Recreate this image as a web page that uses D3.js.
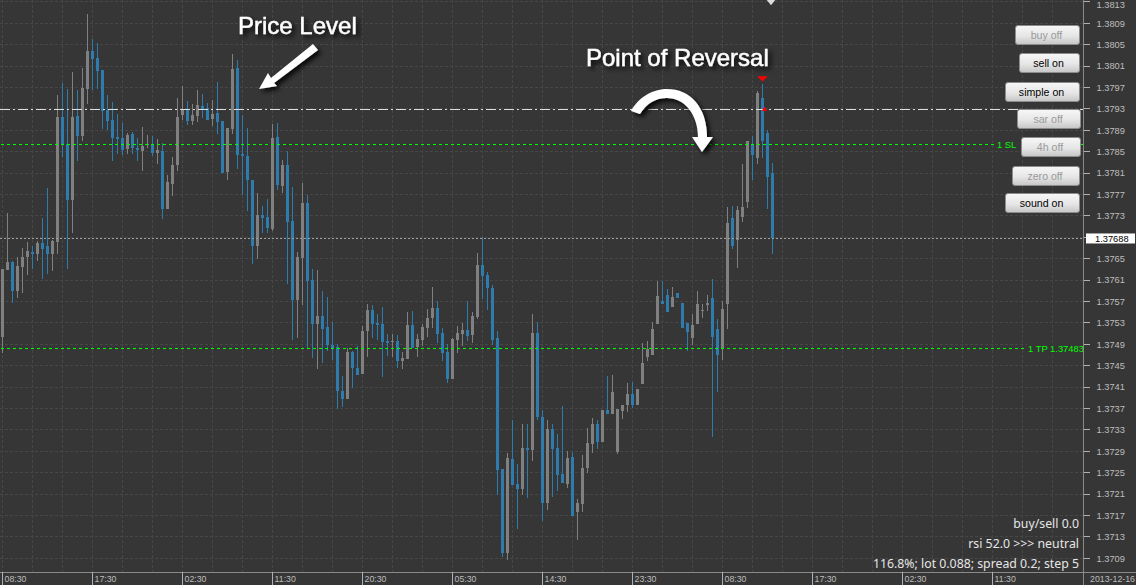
<!DOCTYPE html>
<html>
<head>
<meta charset="utf-8">
<script src="https://cdn.jsdelivr.net/npm/d3@7"></script>
<style>
  html, body { margin: 0; padding: 0; background: #363636; overflow: hidden; }
  svg { display: block; }
  .tick-label { font-family: "Liberation Sans", sans-serif; font-size: 8.8px; fill: #bdbdbd; }
  .price-label { font-size: 9.3px; }
  .button-label { font-family: "Liberation Sans", sans-serif; font-size: 10.6px; text-anchor: middle; }
  .status { font-family: "Noto Sans", sans-serif; font-size: 12.3px; fill: #e6e6e6; text-anchor: end; }
  .level-label { font-family: "Liberation Sans", sans-serif; font-size: 9.4px; fill: #00ff00; }
  .note { font-family: "Liberation Sans", sans-serif; font-size: 24px; fill: #fff; stroke: #fff; stroke-width: 0.4px; }
</style>
</head>
<body>
<div id="chart"></div>
<script>
// prices are kept as points above 1.37000
const basePrice = 1.37;
const pointSize = 0.00001;

const opens = [
  504,629,644,590,635,653,663,659,679,674,
  659,681,915,864,760,917,879,967,1038,1025,
  1003,928,909,877,875,855,883,857,851,862,
  864,848,851,743,790,825,919,930,907,917,
  935,932,911,922,907,812,892,1006,846,842,
  797,674,732,728,706,877,786,825,720,573,
  651,754,610,528,543,522,489,485,403,388,
  476,446,435,515,554,530,528,496,494,496,
  459,463,526,485,498,521,539,558,511,476,
  425,498,509,517,507,541,638,620,595,502,
  257,100,276,229,220,296,292,511,354,193,
  332,296,248,229,279,177,192,259,304,341,
  307,367,360,289,365,377,397,377,416,466,
  470,528,571,582,560,586,567,530,502,528,
  552,564,577,519,481,565,726,685,728,756,
  862,838,950,885,810
];
const highs = [
  631,735,646,653,670,681,674,683,726,782,
  685,956,978,967,999,965,1006,1107,1061,1053,
  1003,956,943,920,904,885,887,875,896,881,
  879,874,866,806,840,950,973,945,939,965,
  958,941,947,980,907,894,1033,1021,919,894,
  797,773,749,762,902,904,835,851,784,663,
  792,769,631,629,590,578,532,491,431,483,
  478,487,524,565,564,547,560,509,509,507,
  476,550,552,509,528,556,597,571,520,491,
  502,524,530,571,550,661,691,625,601,515,
  257,287,349,266,341,341,547,532,367,349,
  341,322,375,291,289,201,283,334,352,349,
  367,431,433,369,377,418,420,406,492,496,
  532,608,608,593,597,586,567,530,547,590,
  565,582,612,537,571,747,749,749,827,870,
  879,963,976,891,829
];
const lows = [
  474,629,567,577,586,620,631,646,612,621,
  627,659,840,631,698,833,870,939,965,967,
  892,891,833,846,844,846,846,833,814,857,
  842,827,724,743,767,814,909,900,900,906,
  913,909,898,883,810,797,883,818,769,739,
  640,649,698,698,702,778,773,603,498,502,
  564,481,464,444,455,478,461,369,373,388,
  408,433,435,466,502,498,429,468,466,446,
  444,463,483,466,487,504,521,492,459,418,
  425,474,487,496,492,537,575,554,489,208,
  92,87,227,145,208,203,272,349,160,180,
  205,216,231,221,169,124,177,249,287,294,
  307,360,360,285,350,364,371,377,416,459,
  470,528,565,550,560,577,521,478,489,528,
  539,552,317,401,461,519,668,633,719,745,
  797,827,838,743,659
];
const closes = [
  631,644,590,636,653,664,659,679,668,659,
  683,915,864,760,915,879,969,1038,1023,1001,
  926,907,875,874,853,881,857,853,861,864,
  848,853,743,793,825,915,928,907,919,937,
  930,909,920,906,810,894,1005,844,842,797,
  674,732,726,707,875,788,825,719,573,653,
  754,608,528,543,519,489,483,403,388,476,
  446,433,515,554,528,526,494,492,496,459,
  464,526,483,500,522,539,558,509,474,425,
  500,511,517,506,543,638,618,595,498,255,
  100,277,227,220,296,292,511,354,193,332,
  294,246,231,277,169,193,259,306,341,307,
  367,360,401,369,377,397,377,406,455,481,
  519,580,565,550,578,577,521,513,526,565,
  554,567,504,470,556,717,674,741,747,870,
  844,960,870,803,688
];

const timeLabels = ["08:30","17:30","02:30","11:30","20:30","05:30","14:30","23:30","08:30","17:30","02:30","11:30"];
const dateLabel = "2013-12-16";
const priceTicks = ["1.3709","1.3713","1.3717","1.3721","1.3725","1.3729","1.3733","1.3737","1.3741","1.3745","1.3749","1.3753","1.3757","1.3761","1.3765","1.3769","1.3773","1.3777","1.3781","1.3785","1.3789","1.3793","1.3797","1.3801","1.3805","1.3809","1.3813"];
const currentPrice = 1.37688;
const reversalLevel = 1.37929;
const stopLoss = 1.37863;
const takeProfit = 1.37483;
const statusLines = ["buy/sell 0.0", "rsi 52.0 >>> neutral", "116.8%; lot 0.088; spread 0.2; step 5"];

const w = 1136, h = 585;
const plotRight = 1084, plotBottom = 572;
const barsPerLabel = 18, barsPerGrid = 6;

const toPrice = (pts) => basePrice + pts * pointSize;

const x = d3.scaleLinear().domain([0, 154]).range([2.5, 772.5]);
const y = d3.scaleLinear().domain([1.3709, 1.3809]).range([558.3, 23.3]);

const svg = d3.select("#chart").append("svg").attr("width", w).attr("height", h);

const defs = svg.append("defs");
const grad = defs.append("linearGradient").attr("id", "btn").attr("x1", 0).attr("x2", 0).attr("y1", 0).attr("y2", 1);
grad.append("stop").attr("offset", "0%").attr("stop-color", "#f7f7f7");
grad.append("stop").attr("offset", "55%").attr("stop-color", "#e6e6e6");
grad.append("stop").attr("offset", "100%").attr("stop-color", "#c6c6c6");
const shadow = defs.append("filter").attr("id", "shadow").attr("x", "-20%").attr("y", "-20%").attr("width", "150%").attr("height", "160%");
shadow.append("feDropShadow").attr("dx", 3).attr("dy", 3).attr("stdDeviation", 2.5).attr("flood-color", "#000").attr("flood-opacity", 0.9);

// grid
const grid = svg.append("g").attr("stroke", "#474747").attr("stroke-dasharray", "3,2").attr("shape-rendering", "crispEdges");
d3.range(0, 216, barsPerGrid).filter(i => x(i) < plotRight).forEach(i => {
  grid.append("line").attr("x1", x(i)).attr("x2", x(i)).attr("y1", 0).attr("y2", plotBottom);
});
priceTicks.forEach(t => {
  grid.append("line").attr("x1", 0).attr("x2", plotRight).attr("y1", y(+t)).attr("y2", y(+t));
});

// candles
const candles = d3.range(opens.length).map(i => ({ i, o: toPrice(opens[i]), h: toPrice(highs[i]), l: toPrice(lows[i]), c: toPrice(closes[i]) }));
const color = d => d.c >= d.o ? "#808080" : "#2e7bae";

const g = svg.append("g").attr("shape-rendering", "crispEdges");
g.selectAll(".wick").data(candles).enter().append("rect")
  .attr("class", "wick")
  .attr("x", d => x(d.i) - 0.5)
  .attr("width", 1)
  .attr("y", d => y(d.h))
  .attr("height", d => y(d.l) - y(d.h))
  .attr("fill", color);
g.selectAll(".body").data(candles).enter().append("rect")
  .attr("class", "body")
  .attr("x", d => x(d.i) - 1.5)
  .attr("width", 3)
  .attr("y", d => y(Math.max(d.o, d.c)))
  .attr("height", d => Math.max(1, Math.abs(y(d.o) - y(d.c))))
  .attr("fill", color);

// horizontal levels
const levels = svg.append("g").attr("shape-rendering", "crispEdges").attr("fill", "none");
levels.append("line").attr("x1", 0).attr("x2", plotRight).attr("y1", y(currentPrice)).attr("y2", y(currentPrice))
  .attr("stroke", "#a0a0a0").attr("stroke-dasharray", "2,2");
levels.append("line").attr("x1", 0).attr("x2", plotRight).attr("y1", y(reversalLevel)).attr("y2", y(reversalLevel))
  .attr("stroke", "#dddddd").attr("stroke-dasharray", "10,3,2,3");
levels.append("line").attr("x1", 1).attr("x2", plotRight).attr("y1", y(stopLoss)).attr("y2", y(stopLoss))
  .attr("stroke", "#00ff00").attr("stroke-dasharray", "3,3");
levels.append("line").attr("x1", 1).attr("x2", plotRight).attr("y1", y(takeProfit)).attr("y2", y(takeProfit))
  .attr("stroke", "#00ff00").attr("stroke-dasharray", "3,3");

// labels sitting on the green lines
svg.append("rect").attr("x", 996).attr("y", y(stopLoss) - 5).attr("width", 24).attr("height", 10).attr("fill", "#363636");
svg.append("text").attr("class", "level-label").attr("x", 997).attr("y", y(stopLoss) + 3.5).text("1 SL");
svg.append("rect").attr("x", 1027).attr("y", y(takeProfit) - 5).attr("width", 57).attr("height", 10).attr("fill", "#363636");
svg.append("text").attr("class", "level-label").attr("x", 1028).attr("y", y(takeProfit) + 3.5).text("1 TP " + takeProfit.toFixed(5));

// order markers
svg.append("path").attr("d", d3.symbol().type(d3.symbolTriangle).size(46)).attr("fill", "#ff0000")
  .attr("transform", `translate(${x(152)},${y(toPrice(976)) - 6.3}) rotate(180) scale(1,0.6)`);
svg.append("path").attr("d", d3.symbol().type(d3.symbolTriangle).size(12)).attr("fill", "#ff0000")
  .attr("transform", `translate(${x(152) + 2},${y(reversalLevel)})`);
svg.append("path").attr("d", d3.symbol().type(d3.symbolTriangle).size(46)).attr("fill", "#dcdcdc")
  .attr("transform", `translate(771,1) rotate(180) scale(1,0.7)`);

// axes
const axisColor = "#8a8a8a";
svg.append("line").attr("x1", plotRight - 0.5).attr("x2", plotRight - 0.5).attr("y1", 0).attr("y2", h).attr("stroke", axisColor).attr("shape-rendering", "crispEdges");
svg.append("line").attr("x1", 0).attr("x2", w).attr("y1", plotBottom + 0.5).attr("y2", plotBottom + 0.5).attr("stroke", axisColor).attr("shape-rendering", "crispEdges");

const yAxis = svg.append("g");
priceTicks.forEach(t => {
  yAxis.append("line").attr("x1", plotRight).attr("x2", plotRight + 6).attr("y1", y(+t)).attr("y2", y(+t))
    .attr("stroke", "#b0b0b0").attr("shape-rendering", "crispEdges");
  // the live price box takes the place of the tick it lands on
  if (Math.abs(+t - currentPrice) < 0.0001) return;
  yAxis.append("text").attr("class", "tick-label price-label").attr("x", plotRight + 12.5).attr("y", Math.max(8, y(+t) + 3.2)).text(t);
});

timeLabels.forEach((t, k) => {
  const px = x(k * barsPerLabel);
  svg.append("line").attr("x1", px).attr("x2", px).attr("y1", plotBottom).attr("y2", h).attr("stroke", "#b0b0b0").attr("shape-rendering", "crispEdges");
  svg.append("text").attr("class", "tick-label").attr("x", px + 2).attr("y", 582).text(t);
});
svg.append("text").attr("class", "tick-label").attr("x", 1090).attr("y", 582).text(dateLabel);

svg.append("rect").attr("x", 1086).attr("y", y(currentPrice) - 4.9).attr("width", 49).attr("height", 10).attr("fill", "#fff");
svg.append("text").attr("class", "tick-label price-label").attr("x", 1095).attr("y", y(currentPrice) + 3.2).style("fill", "#000").text(currentPrice.toFixed(5));

// panel buttons
const buttons = [
  { label: "buy off", x0: 1015, x1: 1080, top: 25, on: false },
  { label: "sell on", x0: 1019, x1: 1080, top: 53, on: true },
  { label: "simple on", x0: 1005, x1: 1080, top: 82, on: true },
  { label: "sar off", x0: 1017, x1: 1081, top: 109, on: false },
  { label: "4h off", x0: 1021, x1: 1081, top: 137, on: false },
  { label: "zero off", x0: 1012, x1: 1080, top: 166, on: false },
  { label: "sound on", x0: 1005, x1: 1080, top: 193, on: true }
];
const btn = svg.append("g").selectAll("g").data(buttons).enter().append("g");
btn.append("rect")
  .attr("x", d => d.x0 + 0.5).attr("y", d => d.top + 0.5)
  .attr("width", d => d.x1 - d.x0 - 1).attr("height", 19).attr("rx", 2.5)
  .attr("fill", "url(#btn)").attr("stroke", "#8c8c8c");
btn.append("text").attr("class", "button-label")
  .attr("x", d => (d.x0 + d.x1) / 2 - 1).attr("y", d => d.top + 14)
  .attr("fill", d => d.on ? "#000" : "#9a9a9a")
  .text(d => d.label);

// status text, bottom right
statusLines.forEach((s, k) => {
  svg.append("text").attr("class", "status").attr("x", 1079).attr("y", 528 + k * 20).text(s);
});

// hand drawn annotations
svg.append("path")
  .attr("d", "M313,44 L318,50 L274,83 L277,86 L259,89 L268,73 L271,78 Z")
  .attr("fill", "#fff").attr("filter", "url(#shadow)");
svg.append("path")
  .attr("d", "M631,111 C640,95 655,89 667,89 C690,89 707,107 707,137 L713,137 L702,152 L692,137 L698,137 C698,115 685,98 667,98 C655,98 646,104 640,114 Z")
  .attr("fill", "#fff").attr("filter", "url(#shadow)");
svg.append("text").attr("class", "note").attr("x", 238).attr("y", 34).attr("filter", "url(#shadow)").text("Price Level");
svg.append("text").attr("class", "note").attr("x", 586).attr("y", 66).attr("filter", "url(#shadow)").text("Point of Reversal");
</script>
</body>
</html>
